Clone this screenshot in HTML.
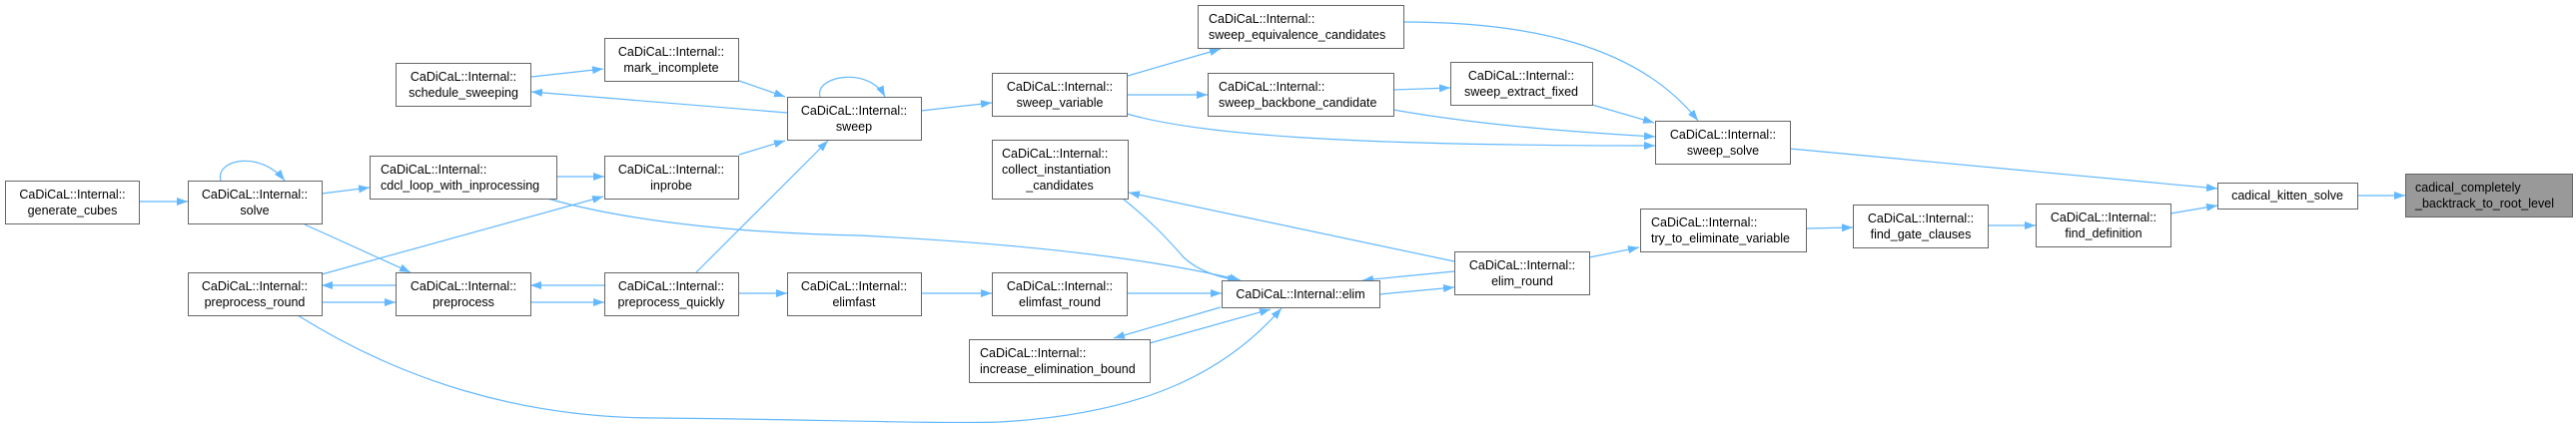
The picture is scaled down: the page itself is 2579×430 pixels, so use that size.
<!DOCTYPE html>
<html><head><meta charset="utf-8"><style>
html,body{margin:0;padding:0;background:#fff;}
svg{display:block;}
text{font-family:"Liberation Sans",Arial,sans-serif;font-size:12.5px;fill:#000;}
rect{fill:#fff;stroke:#666;stroke-width:1;}
path.e{fill:none;stroke:#63b8ff;stroke-width:1.2;}
</style></head><body>
<svg width="2579" height="430" viewBox="0 0 2579 430" xmlns="http://www.w3.org/2000/svg">
<defs><marker id="a" markerUnits="userSpaceOnUse" markerWidth="11" markerHeight="8" refX="11" refY="4" orient="auto"><path d="M0,0 L11,4 L0,8 z" fill="#63b8ff"/></marker></defs>
<g>
<path class="e" marker-end="url(#a)" d="M140,202 L188,202"/>
<path class="e" marker-end="url(#a)" d="M221,181 C215,160 260,150 285,181"/>
<path class="e" marker-end="url(#a)" d="M322,194 L370,188"/>
<path class="e" marker-end="url(#a)" d="M305,225 L411,273"/>
<path class="e" marker-end="url(#a)" d="M322,275 L604,197"/>
<path class="e" marker-end="url(#a)" d="M396,286 L322,286"/>
<path class="e" marker-end="url(#a)" d="M322,303 L396,303"/>
<path class="e" marker-end="url(#a)" d="M605,286 L531,286"/>
<path class="e" marker-end="url(#a)" d="M531,303 L605,303"/>
<path class="e" marker-end="url(#a)" d="M739,294 L788,294"/>
<path class="e" marker-end="url(#a)" d="M697,273 L829,141"/>
<path class="e" marker-end="url(#a)" d="M740,155 L786,141"/>
<path class="e" marker-end="url(#a)" d="M557,177 L605,177"/>
<path class="e" marker-end="url(#a)" d="M548,199 C640,225 760,234 860,236 C1000,243 1140,256 1242,281"/>
<path class="e" marker-end="url(#a)" d="M298,316 C400,380 520,419 658,419 C800,420 930,425 1000,423 C1150,415 1230,370 1283,309"/>
<path class="e" marker-end="url(#a)" d="M532,77 L604,69"/>
<path class="e" marker-end="url(#a)" d="M740,81 L786,97"/>
<path class="e" marker-end="url(#a)" d="M788,113 L532,92"/>
<path class="e" marker-end="url(#a)" d="M821,97 C815,76 870,66 886,97"/>
<path class="e" marker-end="url(#a)" d="M922,111 L993,103"/>
<path class="e" marker-end="url(#a)" d="M1129,76 L1222,49"/>
<path class="e" marker-end="url(#a)" d="M1128,95 L1209,95"/>
<path class="e" marker-end="url(#a)" d="M1128,114 C1200,135 1350,146 1657,146"/>
<path class="e" marker-end="url(#a)" d="M1395,90 L1452,88"/>
<path class="e" marker-end="url(#a)" d="M1395,110 C1480,125 1570,132 1657,137"/>
<path class="e" marker-end="url(#a)" d="M1594,105 L1656,123"/>
<path class="e" marker-end="url(#a)" d="M1405,22 C1530,22 1640,45 1700,121"/>
<path class="e" marker-end="url(#a)" d="M1792,149 L2220,189"/>
<path class="e" marker-end="url(#a)" d="M2360,196 L2408,196"/>
<path class="e" marker-end="url(#a)" d="M2173,214 L2220,206"/>
<path class="e" marker-end="url(#a)" d="M1990,226 L2038,226"/>
<path class="e" marker-end="url(#a)" d="M1808,229 L1855,228"/>
<path class="e" marker-end="url(#a)" d="M1591,258 L1641,248"/>
<path class="e" marker-end="url(#a)" d="M1456,262 L1130,193"/>
<path class="e" marker-end="url(#a)" d="M1381,295 L1456,288"/>
<path class="e" marker-end="url(#a)" d="M1456,272 L1364,281"/>
<path class="e" marker-end="url(#a)" d="M1124,199 C1150,220 1165,235 1185,258 C1200,272 1220,278 1240,281"/>
<path class="e" marker-end="url(#a)" d="M922,294 L993,294"/>
<path class="e" marker-end="url(#a)" d="M1128,294 L1223,294"/>
<path class="e" marker-end="url(#a)" d="M1222,308 L1115,339"/>
<path class="e" marker-end="url(#a)" d="M1151,344 L1272,310"/>
</g>
<g>
<rect x="5.5" y="181.5" width="134" height="43"/><text x="72.5" y="199" text-anchor="middle">CaDiCaL::Internal::</text><text x="72.5" y="215" text-anchor="middle">generate_cubes</text>
<rect x="188.5" y="181.5" width="134" height="43"/><text x="255" y="199" text-anchor="middle">CaDiCaL::Internal::</text><text x="255" y="215" text-anchor="middle">solve</text>
<rect x="396.5" y="63.5" width="135" height="43"/><text x="464" y="81" text-anchor="middle">CaDiCaL::Internal::</text><text x="464" y="97" text-anchor="middle">schedule_sweeping</text>
<rect x="605.5" y="38.5" width="134" height="43"/><text x="672" y="56" text-anchor="middle">CaDiCaL::Internal::</text><text x="672" y="72" text-anchor="middle">mark_incomplete</text>
<rect x="370.5" y="156.5" width="187" height="43"/><text x="381" y="174">CaDiCaL::Internal::</text><text x="381" y="190">cdcl_loop_with_inprocessing</text>
<rect x="605.5" y="156.5" width="134" height="43"/><text x="672" y="174" text-anchor="middle">CaDiCaL::Internal::</text><text x="672" y="190" text-anchor="middle">inprobe</text>
<rect x="188.5" y="273.5" width="134" height="43"/><text x="255" y="291" text-anchor="middle">CaDiCaL::Internal::</text><text x="255" y="307" text-anchor="middle">preprocess_round</text>
<rect x="396.5" y="273.5" width="135" height="43"/><text x="464" y="291" text-anchor="middle">CaDiCaL::Internal::</text><text x="464" y="307" text-anchor="middle">preprocess</text>
<rect x="605.5" y="273.5" width="134" height="43"/><text x="672" y="291" text-anchor="middle">CaDiCaL::Internal::</text><text x="672" y="307" text-anchor="middle">preprocess_quickly</text>
<rect x="788.5" y="97.5" width="134" height="43"/><text x="855" y="115" text-anchor="middle">CaDiCaL::Internal::</text><text x="855" y="131" text-anchor="middle">sweep</text>
<rect x="788.5" y="273.5" width="134" height="43"/><text x="855" y="291" text-anchor="middle">CaDiCaL::Internal::</text><text x="855" y="307" text-anchor="middle">elimfast</text>
<rect x="1199.5" y="5.5" width="206" height="43"/><text x="1210" y="23">CaDiCaL::Internal::</text><text x="1210" y="39">sweep_equivalence_candidates</text>
<rect x="993.5" y="73.5" width="135" height="43"/><text x="1061" y="91" text-anchor="middle">CaDiCaL::Internal::</text><text x="1061" y="107" text-anchor="middle">sweep_variable</text>
<rect x="1209.5" y="73.5" width="186" height="43"/><text x="1220" y="91">CaDiCaL::Internal::</text><text x="1220" y="107">sweep_backbone_candidate</text>
<rect x="1452.5" y="62.5" width="142" height="43"/><text x="1523" y="80" text-anchor="middle">CaDiCaL::Internal::</text><text x="1523" y="96" text-anchor="middle">sweep_extract_fixed</text>
<rect x="1657.5" y="121.5" width="135" height="43"/><text x="1725" y="139" text-anchor="middle">CaDiCaL::Internal::</text><text x="1725" y="155" text-anchor="middle">sweep_solve</text>
<rect x="993.5" y="140.5" width="136" height="59"/><text x="1003" y="158">CaDiCaL::Internal::</text><text x="1003" y="174">collect_instantiation</text><text x="1061" y="190" text-anchor="middle">_candidates</text>
<rect x="993.5" y="273.5" width="135" height="43"/><text x="1061" y="291" text-anchor="middle">CaDiCaL::Internal::</text><text x="1061" y="307" text-anchor="middle">elimfast_round</text>
<rect x="1223.5" y="281.5" width="158" height="27"/><text x="1302" y="299" text-anchor="middle">CaDiCaL::Internal::elim</text>
<rect x="1456.5" y="252.5" width="135" height="43"/><text x="1524" y="270" text-anchor="middle">CaDiCaL::Internal::</text><text x="1524" y="286" text-anchor="middle">elim_round</text>
<rect x="970.5" y="340.5" width="181" height="43"/><text x="981" y="358">CaDiCaL::Internal::</text><text x="981" y="374">increase_elimination_bound</text>
<rect x="1642.5" y="209.5" width="166" height="43"/><text x="1653" y="227">CaDiCaL::Internal::</text><text x="1653" y="243">try_to_eliminate_variable</text>
<rect x="1855.5" y="205.5" width="135" height="43"/><text x="1923" y="223" text-anchor="middle">CaDiCaL::Internal::</text><text x="1923" y="239" text-anchor="middle">find_gate_clauses</text>
<rect x="2038.5" y="204.5" width="135" height="43"/><text x="2106" y="222" text-anchor="middle">CaDiCaL::Internal::</text><text x="2106" y="238" text-anchor="middle">find_definition</text>
<rect x="2220.5" y="183.5" width="140" height="26"/><text x="2290" y="200" text-anchor="middle">cadical_kitten_solve</text>
<rect x="2408.5" y="174.5" width="167" height="43" style="fill:#999"/><text x="2418" y="192">cadical_completely</text><text x="2418" y="208">_backtrack_to_root_level</text>
</g>
</svg>
</body></html>
